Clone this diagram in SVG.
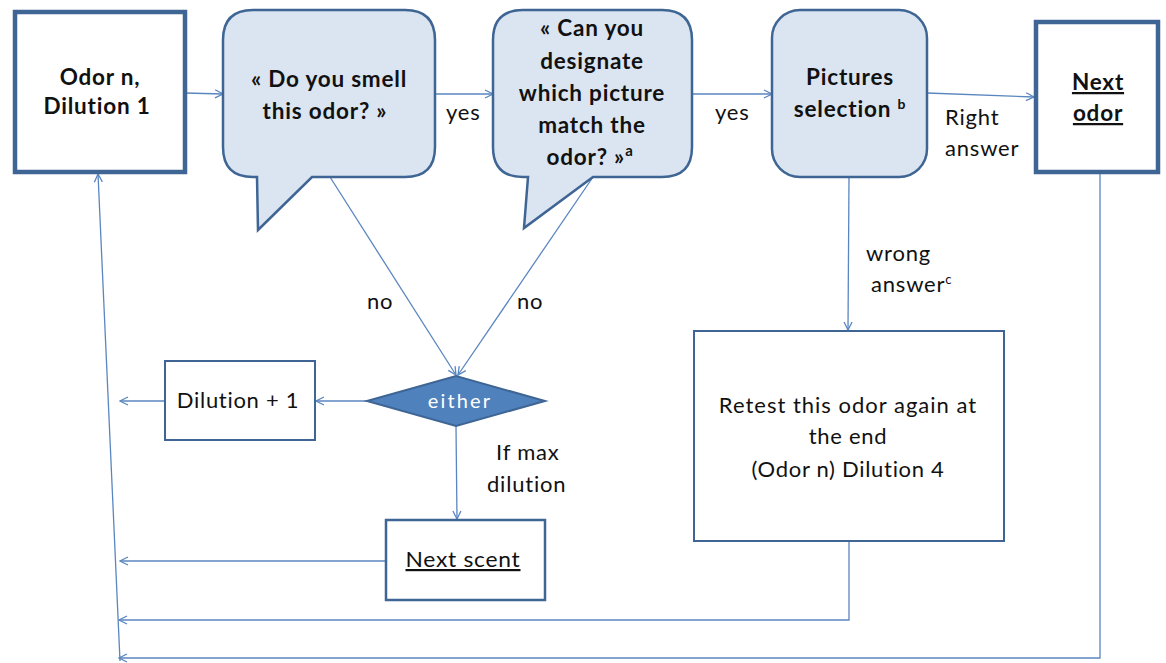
<svg xmlns="http://www.w3.org/2000/svg" width="1166" height="663" viewBox="0 0 1166 663">
<style>
.bx{fill:#fff;stroke:#3e6594}
.thick{stroke-width:4.5}
.thin{stroke-width:2}
.bub{fill:#dbe5f1;stroke:#3e6594;stroke-width:2.5}
.c{fill:none;stroke:#5a86c0;stroke-width:1.3}
.t{font-family:Lato,"Liberation Sans",sans-serif;font-size:22px;fill:#111;text-anchor:middle;letter-spacing:0.7px}
.b{font-weight:bold;font-size:22.5px;letter-spacing:0.8px}
.l{font-family:Lato,"Liberation Sans",sans-serif;font-size:22px;fill:#111;letter-spacing:0.8px}
.u{text-decoration:underline}
</style>
<defs>
<marker id="ah" viewBox="0 0 10 10" refX="9" refY="5" markerWidth="10" markerHeight="10" markerUnits="userSpaceOnUse" orient="auto">
<path d="M1,1 L9,5 L1,9" fill="none" stroke="#5a86c0" stroke-width="1.3"/>
</marker>
</defs>
<rect width="1166" height="663" fill="#fff"/>
<g id="connectors">
<line class="c" x1="185" y1="93" x2="223" y2="94" marker-end="url(#ah)"/>
<line class="c" x1="435" y1="94" x2="493" y2="94" marker-end="url(#ah)"/>
<line class="c" x1="692" y1="94" x2="772" y2="94" marker-end="url(#ah)"/>
<line class="c" x1="927" y1="93" x2="1034" y2="97" marker-end="url(#ah)"/>
<line class="c" x1="330" y1="177" x2="456" y2="375" marker-end="url(#ah)"/>
<line class="c" x1="593" y1="177" x2="458" y2="375" marker-end="url(#ah)"/>
<line class="c" x1="366" y1="401" x2="316" y2="401" marker-end="url(#ah)"/>
<line class="c" x1="165" y1="401" x2="120" y2="401" marker-end="url(#ah)"/>
<line class="c" x1="456" y1="426" x2="457" y2="519" marker-end="url(#ah)"/>
<line class="c" x1="386" y1="561" x2="120" y2="561" marker-end="url(#ah)"/>
<line class="c" x1="849" y1="177" x2="848" y2="330" marker-end="url(#ah)"/>
<polyline class="c" points="849,541 849,620 119,620" marker-end="url(#ah)"/>
<polyline class="c" points="1100,172 1100,658 119,658" marker-end="url(#ah)"/>
<line class="c" x1="120" y1="661" x2="98" y2="174" marker-end="url(#ah)"/>
<text class="l" x="446" y="120">yes</text>
<text class="l" x="715" y="120">yes</text>
<text class="l" x="945" y="125">Right</text>
<text class="l" x="945" y="156">answer</text>
<text class="l" x="367" y="309">no</text>
<text class="l" x="517" y="309">no</text>
<text class="l" x="496" y="460">If max</text>
<text class="l" x="487" y="492">dilution</text>
<text class="l" x="866" y="261">wrong</text>
<text class="l" x="871" y="292">answer<tspan font-size="13" baseline-shift="super">c</tspan></text>
</g>
<g id="odor-n">
<rect class="bx thick" x="15" y="12" width="170" height="160"/>
<text class="t b" x="100" y="85">Odor n,</text>
<text class="t b" x="97" y="114">Dilution 1</text>
</g>
<g id="smell">
<path class="bub" d="M253,10 H405 Q435,10 435,40 V147 Q435,177 405,177 H312 L258,230 L257,177 H253 Q223,177 223,147 V40 Q223,10 253,10 Z"/>
<text class="t b" x="329" y="87">« Do you smell</text>
<text class="t b" x="325" y="119">this odor? »</text>
</g>
<g id="designate">
<path class="bub" d="M523,10 H662 Q692,10 692,40 V147 Q692,177 662,177 H593 L524,228 L528,177 H523 Q493,177 493,147 V40 Q493,10 523,10 Z"/>
<text class="t b" x="592" y="36">« Can you</text>
<text class="t b" x="592" y="69">designate</text>
<text class="t b" x="592" y="101">which picture</text>
<text class="t b" x="592" y="133">match the</text>
<text class="t b" x="590" y="165">odor? »<tspan font-size="15" baseline-shift="super">a</tspan></text>
</g>
<g id="pictures">
<rect class="bub" x="772" y="10" width="155" height="167" rx="28"/>
<text class="t b" x="850" y="85">Pictures</text>
<text class="t b" x="850" y="117">selection <tspan font-size="14" baseline-shift="super">b</tspan></text>
</g>
<g id="next-odor">
<rect class="bx thick" x="1036" y="22" width="122" height="150"/>
<text class="t b u" x="1098" y="90">Next</text>
<text class="t b u" x="1098" y="121">odor</text>
</g>
<g id="either">
<polygon points="367,401 456,376 545,401 456,426" fill="#4f81bd" stroke="#3e6594" stroke-width="2"/>
<text class="t" x="460" y="408" style="fill:#fff;font-size:20px;letter-spacing:2.2px">either</text>
</g>
<g id="dilution-plus">
<rect class="bx thin" x="165" y="361" width="150" height="79"/>
<text class="t" x="238" y="408">Dilution + 1</text>
</g>
<g id="next-scent">
<rect class="bx" style="stroke-width:2.5" x="386" y="520" width="159" height="80"/>
<text class="t u" x="463" y="567" textLength="115" lengthAdjust="spacingAndGlyphs">Next scent</text>
</g>
<g id="retest">
<rect class="bx thin" x="694" y="331" width="310" height="210"/>
<text class="t" x="848" y="413" style="letter-spacing:1px">Retest this odor again at</text>
<text class="t" x="848" y="444">the end</text>
<text class="t" x="848" y="477">(Odor n) Dilution 4</text>
</g>
</svg>
